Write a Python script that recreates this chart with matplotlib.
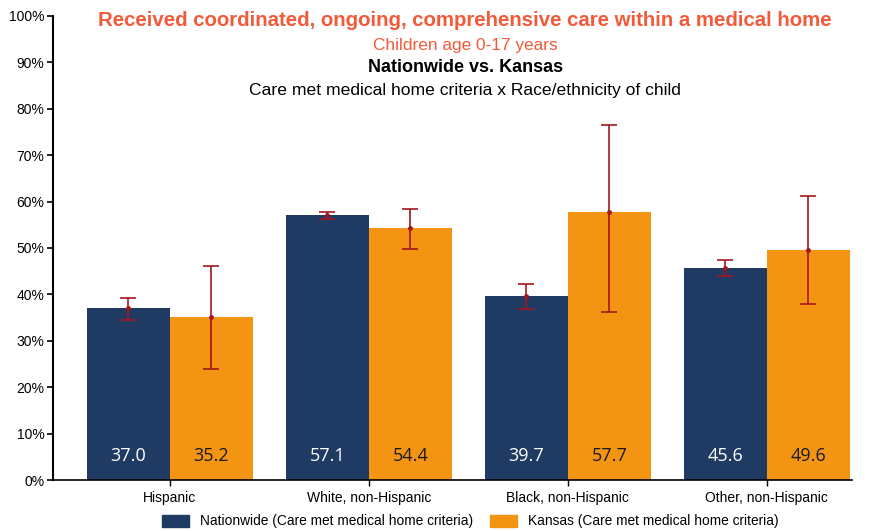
import numpy as np
import matplotlib
matplotlib.use("Agg")
import matplotlib.pyplot as plt
from matplotlib.patches import Patch

plt.rcParams['font.family'] = ['Liberation Sans', 'DejaVu Sans']

categories = ["Hispanic", "White, non-Hispanic", "Black, non-Hispanic", "Other, non-Hispanic"]
nationwide = [37.0, 57.1, 39.7, 45.6]
kansas = [35.2, 54.4, 57.7, 49.6]
nat_low = [34.5, 56.2, 36.9, 44.0]
nat_high = [39.3, 57.8, 42.2, 47.5]
ks_low = [23.9, 49.7, 36.1, 37.9]
ks_high = [46.2, 58.5, 76.5, 61.1]

navy = "#1f3b63"
orange = "#f49413"
err_col = "#a3161c"
title_col = "#f25a3a"

fig = plt.figure(figsize=(8.71, 5.31), dpi=100)
ax = fig.add_axes([0.0608, 0.096, 0.9172, 0.874])

x = np.arange(len(categories))
w = 0.417
ax.bar(x - w / 2, nationwide, w, color=navy, zorder=2)
ax.bar(x + w / 2, kansas, w, color=orange, zorder=2)

# error bars (confidence intervals)
nat = np.array(nationwide)
ks = np.array(kansas)
ax.errorbar(x - w / 2, nat, yerr=[nat - np.array(nat_low), np.array(nat_high) - nat],
            fmt='o', ms=2.5, color=err_col, ecolor=err_col, elinewidth=1.2, capsize=6, capthick=1.2, zorder=3)
ax.errorbar(x + w / 2, ks, yerr=[ks - np.array(ks_low), np.array(ks_high) - ks],
            fmt='o', ms=2.5, color=err_col, ecolor=err_col, elinewidth=1.2, capsize=6, capthick=1.2, zorder=3)

# value labels near the bottom of bars
for i in range(len(categories)):
    ax.text(x[i] - w / 2, 5.2, f"{nationwide[i]:.1f}", ha='center', va='center',
            color='white', fontsize=13, family=['Open Sans', 'DejaVu Sans'], zorder=4)
    ax.text(x[i] + w / 2, 5.2, f"{kansas[i]:.1f}", ha='center', va='center',
            color='#1a1a1a', fontsize=13, family=['Open Sans', 'DejaVu Sans'], zorder=4)

ax.set_xlim(-0.588, 3.427)
ax.set_ylim(0, 100)
ax.set_yticks(range(0, 101, 10))
ax.set_yticklabels([f"{v}%" for v in range(0, 101, 10)], fontsize=10)
ax.set_xticks(x)
ax.set_xticklabels(categories, fontsize=10)
ax.tick_params(axis='y', length=4, width=1.2, pad=2)
ax.tick_params(axis='x', length=4, width=1, pad=4)
for s in ['top', 'right']:
    ax.spines[s].set_visible(False)
ax.spines['left'].set_linewidth(1.5)
ax.spines['bottom'].set_linewidth(1.2)

# titles
fig.text(0.534, 0.962, "Received coordinated, ongoing, comprehensive care within a medical home",
         ha='center', va='center', color=title_col, fontsize=14.7, fontweight='bold')
fig.text(0.534, 0.915, "Children age 0-17 years", ha='center', va='center', color=title_col, fontsize=12.4)
fig.text(0.534, 0.872, "Nationwide vs. Kansas", ha='center', va='center', color='black',
         fontsize=13, fontweight='bold')
fig.text(0.534, 0.830, "Care met medical home criteria x Race/ethnicity of child", ha='center', va='center',
         color='black', fontsize=12.6)

handles = [Patch(color=navy, label="Nationwide (Care met medical home criteria)"),
           Patch(color=orange, label="Kansas (Care met medical home criteria)")]
fig.legend(handles=handles, loc='center', bbox_to_anchor=(0.54, 0.018), ncol=2, frameon=False,
           fontsize=9.9, handlelength=2.0, handleheight=1.0, columnspacing=1.2)

plt.savefig("out.png", dpi=100)
